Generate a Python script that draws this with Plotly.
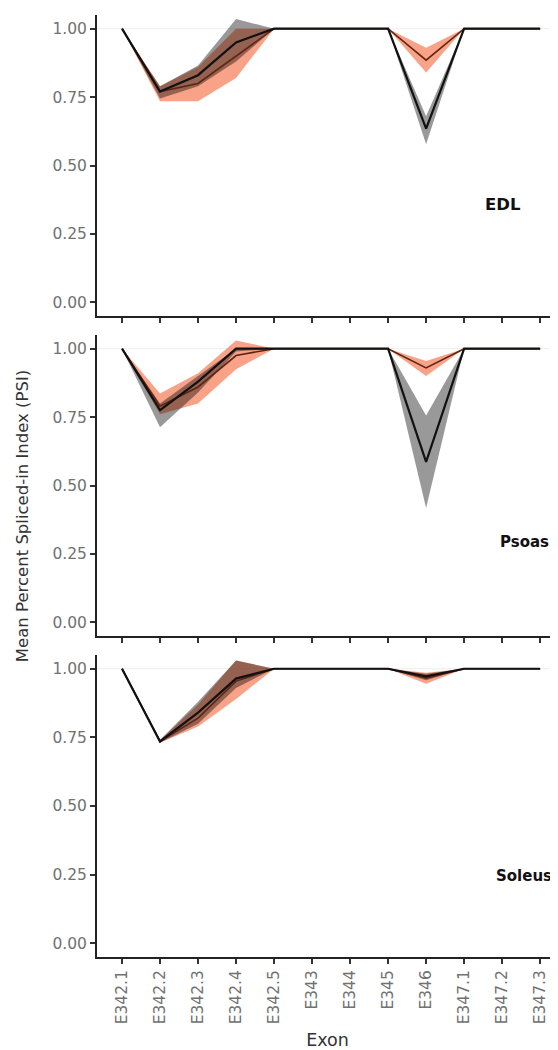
import plotly.graph_objects as go

exons = ["E342.1", "E342.2", "E342.3", "E342.4", "E342.5", "E343", "E344",
         "E345", "E346", "E347.1", "E347.2", "E347.3"]
panels = ["EDL", "Psoas", "Soleus"]

# grey/black group
edl_k_mean = [1, 0.77, 0.83, 0.95, 1, 1, 1, 1, 0.635, 1, 1, 1]
edl_k_lo = [1, 0.745, 0.79, 0.88, 1, 1, 1, 1, 0.578, 1, 1, 1]
edl_k_hi = [1, 0.79, 0.865, 1.035, 1, 1, 1, 1, 0.68, 1, 1, 1]
# orange group
edl_o_mean = [1, 0.77, 0.80, 0.90, 1, 1, 1, 1, 0.885, 1, 1, 1]
edl_o_lo = [1, 0.735, 0.735, 0.82, 1, 1, 1, 1, 0.84, 1, 1, 1]
edl_o_hi = [1, 0.79, 0.86, 1.0, 1, 1, 1, 1, 0.93, 1, 1, 1]

psoas_k_mean = [1, 0.775, 0.88, 1.0, 1, 1, 1, 1, 0.586, 1, 1, 1]
psoas_k_lo = [1, 0.713, 0.84, 0.99, 1, 1, 1, 1, 0.418, 1, 1, 1]
psoas_k_hi = [1, 0.80, 0.90, 1.0, 1, 1, 1, 1, 0.756, 1, 1, 1]
psoas_o_mean = [1, 0.79, 0.86, 0.975, 1, 1, 1, 1, 0.93, 1, 1, 1]
psoas_o_lo = [1, 0.76, 0.80, 0.925, 1, 1, 1, 1, 0.90, 1, 1, 1]
psoas_o_hi = [1, 0.836, 0.91, 1.03, 1, 1, 1, 1, 0.955, 1, 1, 1]

soleus_k_mean = [1, 0.735, 0.84, 0.964, 1, 1, 1, 1, 0.972, 1, 1, 1]
soleus_k_lo = [1, 0.73, 0.80, 0.93, 1, 1, 1, 1, 0.958, 1, 1, 1]
soleus_k_hi = [1, 0.74, 0.88, 1.03, 1, 1, 1, 1, 0.982, 1, 1, 1]
soleus_o_mean = [1, 0.735, 0.82, 0.955, 1, 1, 1, 1, 0.966, 1, 1, 1]
soleus_o_lo = [1, 0.73, 0.79, 0.89, 1, 1, 1, 1, 0.945, 1, 1, 1]
soleus_o_hi = [1, 0.74, 0.87, 1.03, 1, 1, 1, 1, 0.985, 1, 1, 1]

yticks = [0.0, 0.25, 0.5, 0.75, 1.0]
ytick_labels = ["0.00", "0.25", "0.50", "0.75", "1.00"]

data = [
    (edl_k_mean, edl_k_lo, edl_k_hi, edl_o_mean, edl_o_lo, edl_o_hi),
    (psoas_k_mean, psoas_k_lo, psoas_k_hi, psoas_o_mean, psoas_o_lo, psoas_o_hi),
    (soleus_k_mean, soleus_k_lo, soleus_k_hi, soleus_o_mean, soleus_o_lo, soleus_o_hi),
]
label_pos = [(10.03, 0.356), (10.58, 0.295), (10.58, 0.244)]
label_sizes = [16.5, 15, 15]

ORANGE_FILL = "rgba(244,109,67,0.64)"
GREY_FILL = "rgba(0,0,0,0.40)"
ORANGE_LINE = "#5e2412"
BLACK_LINE = "#111111"

fig = go.Figure()
H = 942.0
domains = [((949 - 308) / H, 1.0), ((949 - 628) / H, (949 - 327) / H), (0.0, (949 - 647) / H)]

for i, (km, kl, kh, om, ol, oh) in enumerate(data):
    xa = "x" if i == 0 else f"x{i+1}"
    ya = "y" if i == 0 else f"y{i+1}"
    poly_x = exons + exons[::-1]
    fig.add_trace(go.Scatter(x=poly_x, y=oh + ol[::-1], fill="toself", fillcolor=ORANGE_FILL,
                             line=dict(width=0), mode="lines", hoverinfo="skip",
                             showlegend=False, xaxis=xa, yaxis=ya))
    fig.add_trace(go.Scatter(x=poly_x, y=kh + kl[::-1], fill="toself", fillcolor=GREY_FILL,
                             line=dict(width=0), mode="lines", hoverinfo="skip",
                             showlegend=False, xaxis=xa, yaxis=ya))
    fig.add_trace(go.Scatter(x=exons, y=om, mode="lines", line=dict(color=ORANGE_LINE, width=1.6),
                             showlegend=False, xaxis=xa, yaxis=ya))
    fig.add_trace(go.Scatter(x=exons, y=km, mode="lines", line=dict(color=BLACK_LINE, width=2.2),
                             showlegend=False, xaxis=xa, yaxis=ya))
    lx, ly = label_pos[i]
    fig.add_annotation(x=lx, y=ly, xref=xa, yref=ya, text=f"<b>{panels[i]}</b>",
                       showarrow=False,
                       font=dict(family="DejaVu Sans", size=label_sizes[i], color="#111111"))
    fig.add_shape(type="line", xref=f"{xa} domain", yref=ya, x0=0, x1=1, y0=1, y1=1,
                  line=dict(color="#eeeeee", width=1), layer="below")

axis_font = dict(family="DejaVu Sans", size=15.5, color="#717171")
for i in range(3):
    xk = "xaxis" if i == 0 else f"xaxis{i+1}"
    yk = "yaxis" if i == 0 else f"yaxis{i+1}"
    ya = "y" if i == 0 else f"y{i+1}"
    xa = "x" if i == 0 else f"x{i+1}"
    fig.layout[xk] = dict(type="category", categoryorder="array", categoryarray=exons,
                          range=[-0.658, 11.47], domain=[0, 1], anchor=ya,
                          showgrid=False, zeroline=False, showline=True, linecolor="#222222",
                          linewidth=2, ticks="outside", ticklen=5, tickwidth=1.5,
                          tickcolor="#333333", showticklabels=(i == 2), tickangle=-90,
                          tickfont=axis_font)
    fig.layout[yk] = dict(domain=list(domains[i]), anchor=xa, range=[-0.05, 1.05],
                          tickvals=yticks, ticktext=ytick_labels, showgrid=False,
                          zeroline=False, showline=True, linecolor="#222222", linewidth=2,
                          ticks="outside", ticklen=5, tickwidth=1.5, tickcolor="#333333",
                          tickfont=axis_font)

fig.layout.xaxis3.title = dict(text="Exon", font=dict(family="DejaVu Sans", size=17.5, color="#333333"),
                               standoff=10)

fig.add_annotation(x=-0.1627, y=0.468, xref="paper", yref="paper", xanchor="center", yanchor="middle",
                   text="Mean Percent Spliced-in Index (PSI)", textangle=-90, showarrow=False,
                   font=dict(family="DejaVu Sans", size=16.5, color="#333333"))

fig.update_layout(width=550, height=1042, margin=dict(l=89, r=0, t=7, b=93),
                  plot_bgcolor="white", paper_bgcolor="white", showlegend=False)

fig.write_html("out.html")
